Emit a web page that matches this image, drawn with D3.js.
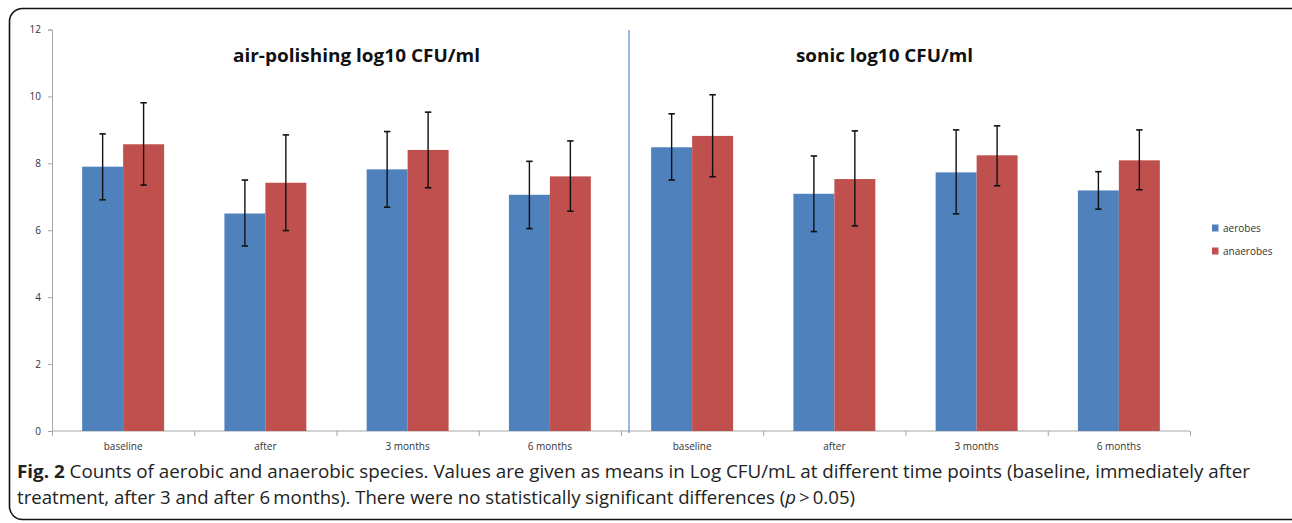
<!DOCTYPE html>
<html>
<head>
<meta charset="utf-8">
<script src="https://cdn.jsdelivr.net/npm/d3@7"></script>
<style>
  html, body { margin: 0; padding: 0; background: #fff; }
  svg { display: block; }
</style>
</head>
<body>
<svg id="chart" width="1292" height="523"></svg>
<script>
// ---------- data ----------
const panels = ["air-polishing log10 CFU/ml", "sonic log10 CFU/ml"];
const timepoints = ["baseline", "after", "3 months", "6 months"];
const seriesNames = ["aerobes", "anaerobes"];
// means (8 categories: 4 air-polishing, then 4 sonic)
const aerobes   = [7.90, 6.50, 7.82, 7.06, 8.48, 7.09, 7.73, 7.19];
const anaerobes = [8.57, 7.42, 8.40, 7.61, 8.82, 7.53, 8.24, 8.09];
// error bar ends
const aerobesLow   = [6.91, 5.53, 6.69, 6.05, 7.50, 5.96, 6.49, 6.63];
const aerobesHigh  = [8.88, 7.50, 8.95, 8.06, 9.48, 8.22, 9.00, 7.75];
const anaerobesLow  = [7.35, 5.99, 7.27, 6.57, 7.60, 6.13, 7.33, 7.21];
const anaerobesHigh = [9.81, 8.85, 9.53, 8.67, 10.05, 8.97, 9.12, 9.00];
const yTicks = [0, 2, 4, 6, 8, 10, 12];
const captionBold = "Fig. 2";
const captionLine1 = " Counts of aerobic and anaerobic species. Values are given as means in Log CFU/mL at different time points (baseline, immediately after";
const captionLine2a = "treatment, after 3 and after 6\u2009months). There were no statistically significant differences (";
const captionLine2p = "p";
const captionLine2b = "\u2009>\u20090.05)";

// ---------- build ----------
const categories = [];
panels.forEach((p, pi) => timepoints.forEach((t, ti) => categories.push({ key: pi + "-" + ti, label: t })));
const colors = { aerobes: "#4f81bd", anaerobes: "#c0504d" };
const means = { aerobes, anaerobes };
const lows = { aerobes: aerobesLow, anaerobes: anaerobesLow };
const highs = { aerobes: aerobesHigh, anaerobes: anaerobesHigh };

const svg = d3.select("#chart");
const mLeft = 52, mRight = 1190, mTop = 29.5, mBottom = 431;

// frame
svg.append("rect")
  .attr("x", 9.5).attr("y", 8.5)
  .attr("width", 1300).attr("height", 511)
  .attr("rx", 13).attr("ry", 13)
  .attr("fill", "none").attr("stroke", "#111").attr("stroke-width", 1.6);

const x0 = d3.scaleBand().domain(categories.map(d => d.key)).range([mLeft, mRight])
  .paddingInner(0.424).paddingOuter(0.212);
const x1 = d3.scaleBand().domain(seriesNames).range([0, x0.bandwidth()]);
const y = d3.scaleLinear().domain([0, 12]).range([mBottom, mTop]);
const xb = d3.scaleLinear().domain([0, categories.length]).range([mLeft, mRight]);

// y axis
const yAx = svg.append("g").attr("transform", `translate(${mLeft},0)`)
  .call(d3.axisLeft(y).tickValues(yTicks).tickSize(4).tickPadding(7));
yAx.select(".domain").attr("stroke", "#a6a6a6");
yAx.selectAll(".tick line").attr("stroke", "#a6a6a6");
yAx.selectAll(".tick text").attr("font-family", "'Open Sans', sans-serif").attr("font-size", 10).attr("fill", "#333");

// x axis boundary ticks + line
const xAx = svg.append("g").attr("transform", `translate(0,${mBottom})`)
  .call(d3.axisBottom(xb).tickValues(d3.range(0, categories.length + 1)).tickSize(5).tickFormat(""));
xAx.select(".domain").attr("stroke", "#a6a6a6").attr("d", `M${mLeft},0H${mRight}`);
xAx.selectAll(".tick line").attr("stroke", "#a6a6a6");

// x labels
const xLab = svg.append("g").attr("transform", `translate(0,${mBottom})`)
  .call(d3.axisBottom(x0).tickSize(0).tickPadding(12).tickFormat(k => categories.find(c => c.key === k).label));
xLab.select(".domain").remove();
xLab.selectAll(".tick text").attr("font-family", "'Open Sans', sans-serif").attr("font-size", 10).attr("fill", "#333");

// bars
const groups = svg.append("g").selectAll("g").data(categories).join("g")
  .attr("transform", d => `translate(${x0(d.key)},0)`);
groups.selectAll("rect").data((d, i) => seriesNames.map(s => ({ s, v: means[s][i] })))
  .join("rect")
  .attr("x", d => x1(d.s)).attr("width", x1.bandwidth())
  .attr("y", d => y(d.v)).attr("height", d => y(0) - y(d.v))
  .attr("fill", d => colors[d.s]);

// error bars
const eb = groups.selectAll("g.err").data((d, i) => seriesNames.map(s => ({ s, lo: lows[s][i], hi: highs[s][i] })))
  .join("g").attr("class", "err")
  .attr("transform", d => `translate(${x1(d.s) + x1.bandwidth() / 2},0)`);
eb.append("line").attr("x1", 0).attr("x2", 0).attr("y1", d => y(d.lo)).attr("y2", d => y(d.hi))
  .attr("stroke", "#111").attr("stroke-width", 1.4);
eb.append("line").attr("x1", -3.2).attr("x2", 3.2).attr("y1", d => y(d.hi)).attr("y2", d => y(d.hi))
  .attr("stroke", "#111").attr("stroke-width", 1.6);
eb.append("line").attr("x1", -3.2).attr("x2", 3.2).attr("y1", d => y(d.lo)).attr("y2", d => y(d.lo))
  .attr("stroke", "#111").attr("stroke-width", 1.6);

// divider
svg.append("line").attr("x1", 629).attr("x2", 629).attr("y1", 30).attr("y2", 433)
  .attr("stroke", "#6f9bd8").attr("stroke-width", 1.4);

// panel titles
const titleX = [356.5, 884.5];
const titleW = [247, 177];
panels.forEach((p, i) => {
  svg.append("text").attr("x", titleX[i]).attr("y", 62).attr("text-anchor", "middle")
    .attr("font-family", "'Open Sans', sans-serif").attr("font-weight", "bold").attr("font-size", 18)
    .attr("fill", "#111")
    .attr("textLength", titleW[i]).attr("lengthAdjust", "spacingAndGlyphs")
    .text(p);
});

// legend
const leg = svg.append("g").selectAll("g").data(seriesNames).join("g")
  .attr("transform", (d, i) => `translate(1212,${228 + i * 23})`);
leg.append("rect").attr("x", 0).attr("y", -3.5).attr("width", 6.5).attr("height", 7).attr("fill", d => colors[d]);
leg.append("text").attr("x", 11).attr("y", 3.5)
  .attr("font-family", "'Open Sans', sans-serif").attr("font-size", 10).attr("fill", "#333").text(d => d);

// caption
const cap1 = svg.append("text").attr("x", 17).attr("y", 478)
  .attr("font-family", "'Open Sans', sans-serif").attr("font-size", 17.5).attr("fill", "#222")
  .attr("textLength", 1233).attr("lengthAdjust", "spacingAndGlyphs");
cap1.append("tspan").attr("font-weight", "bold").text(captionBold);
cap1.append("tspan").text(captionLine1);
const cap2 = svg.append("text").attr("x", 17).attr("y", 504)
  .attr("font-family", "'Open Sans', sans-serif").attr("font-size", 17.5).attr("fill", "#222")
  .attr("textLength", 838).attr("lengthAdjust", "spacingAndGlyphs");
cap2.append("tspan").text(captionLine2a);
cap2.append("tspan").attr("font-style", "italic").text(captionLine2p);
cap2.append("tspan").text(captionLine2b);
</script>
</body>
</html>
